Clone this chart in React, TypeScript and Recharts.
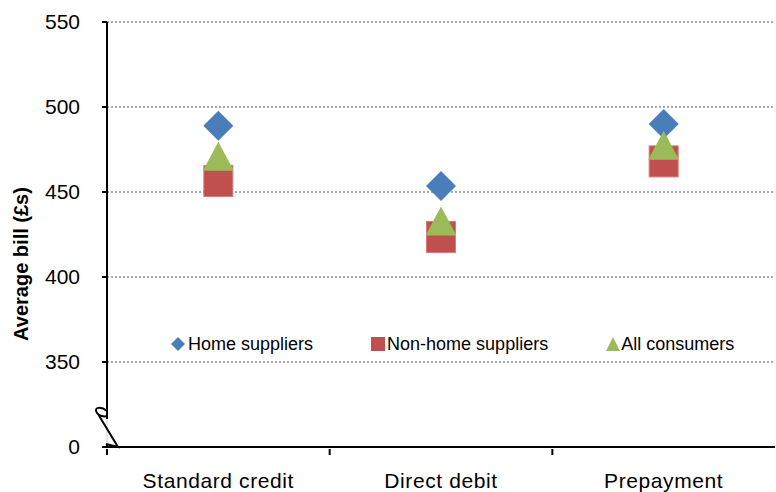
import { ScatterChart, Scatter, XAxis, YAxis, CartesianGrid, Legend } from "recharts";

const categories = ["Standard credit", "Direct debit", "Prepayment"];
const seriesNames = ["Home suppliers", "Non-home suppliers", "All consumers"];
const homeSuppliers = [489, 453.5, 490];
const nonHomeSuppliers = [456.5, 423.5, 468];
const allConsumers = [471, 433, 477.5];
const yTicks = [300, 350, 400, 450, 500, 550];
const xTicks = [0, 0.5, 1, 1.5, 2, 2.5, 3];

const BLUE = "#4A7EBB";
const RED = "#C0504D";
const GREEN = "#9BBB59";
const FONT = "'Liberation Sans', Arial, sans-serif";

const toPoints = (vals: number[]) => vals.map((y, i) => ({ x: i + 0.5, y, name: categories[i] }));

function DiamondShape({ cx, cy }: { cx?: number; cy?: number }) {
  if (cx == null || cy == null) return null;
  const h = 15;
  return (
    <polygon
      points={`${cx},${cy - h} ${cx + h},${cy} ${cx},${cy + h} ${cx - h},${cy}`}
      fill={BLUE}
    />
  );
}

function SquareShape({ cx, cy }: { cx?: number; cy?: number }) {
  if (cx == null || cy == null) return null;
  return <rect x={cx - 14.5} y={cy - 15.5} width={29} height={31} fill={RED} stroke="#D77A78" strokeWidth={1} />;
}

function TriangleShape({ cx, cy }: { cx?: number; cy?: number }) {
  if (cx == null || cy == null) return null;
  return (
    <polygon
      points={`${cx},${cy - 14.5} ${cx + 15.5},${cy + 14.5} ${cx - 15.5},${cy + 14.5}`}
      fill={GREEN}
    />
  );
}

// ticks at whole numbers are category boundaries, half values carry the labels
function XTick({ x, y, payload }: { x?: number; y?: number; payload?: { value: number } }) {
  if (x == null || y == null || !payload) return null;
  const v = payload.value;
  if (Number.isInteger(v)) {
    if (v === 3) return null;
    return <line x1={x} y1={y} x2={x} y2={y + 6} stroke="#000" strokeWidth={2} />;
  }
  return (
    <text x={x} y={y + 39} textAnchor="middle" fontSize={21} letterSpacing={0.6} fontFamily={FONT} fill="#000">
      {categories[Math.floor(v)]}
    </text>
  );
}

function LegendIcon({ i }: { i: number }) {
  if (i === 0)
    return (
      <svg width={14} height={14} style={{ marginRight: 3 }}>
        <polygon points="7,0 14,7 7,14 0,7" fill={BLUE} />
      </svg>
    );
  if (i === 1)
    return (
      <svg width={14} height={14} style={{ marginRight: 2 }}>
        <rect x={0} y={0} width={14} height={14} fill={RED} />
      </svg>
    );
  return (
    <svg width={14} height={14} style={{ marginRight: 1 }}>
      <polygon points="7,0 14,14 0,14" fill={GREEN} />
    </svg>
  );
}

function LegendContent({ payload }: { payload?: { value: string }[] }) {
  if (!payload) return null;
  const items = [...payload].sort((a, b) => seriesNames.indexOf(a.value) - seriesNames.indexOf(b.value));
  return (
    <div style={{ display: "flex", alignItems: "center", fontFamily: FONT, fontSize: 18, lineHeight: "20px", color: "#000" }}>
      {items.map((p, i) => (
        <div key={p.value} style={{ display: "flex", alignItems: "center", marginRight: i < 2 ? 58 : 0 }}>
          <LegendIcon i={seriesNames.indexOf(p.value)} />
          <span>{p.value}</span>
        </div>
      ))}
    </div>
  );
}

export default function App() {
  return (
    <div style={{ position: "absolute", left: 0, top: 0, width: 776, height: 492, background: "#fff" }}>
      <ScatterChart width={776} height={492} margin={{ top: 22, right: 1, bottom: 0, left: 0 }}>
        <CartesianGrid vertical={false} stroke="#8C8C8C" strokeWidth={1.5} strokeDasharray="2 2" />
        <XAxis
          type="number"
          dataKey="x"
          domain={[0, 3]}
          ticks={xTicks}
          interval={0}
          height={45}
          tickSize={0}
          tickLine={false}
          axisLine={{ stroke: "#000", strokeWidth: 2 }}
          tick={<XTick />}
        />
        <YAxis
          type="number"
          dataKey="y"
          domain={[300, 550]}
          ticks={yTicks}
          interval={0}
          width={107}
          tickSize={5}
          tickMargin={22}
          axisLine={{ stroke: "#000", strokeWidth: 2 }}
          tickLine={{ stroke: "#000", strokeWidth: 2 }}
          tick={{ fontSize: 21, fill: "#000", fontFamily: FONT }}
          tickFormatter={(v: number) => (v === 300 ? "0" : String(v))}
          label={{
            content: () => (
              <text
                x={28}
                y={264}
                transform="rotate(-90, 28, 264)"
                textAnchor="middle"
                fontSize={20}
                fontWeight="bold"
                fontFamily={FONT}
                fill="#000"
              >
                Average bill (£s)
              </text>
            ),
          }}
        />
        <Legend
          layout="horizontal"
          verticalAlign="middle"
          align="center"
          content={<LegendContent />}
          wrapperStyle={{ position: "absolute", top: 334, left: 171, width: "auto" }}
        />
        <Scatter name="Home suppliers" data={toPoints(homeSuppliers)} shape={<DiamondShape />} fill={BLUE} isAnimationActive={false} />
        <Scatter name="Non-home suppliers" data={toPoints(nonHomeSuppliers)} shape={<SquareShape />} fill={RED} isAnimationActive={false} />
        <Scatter name="All consumers" data={toPoints(allConsumers)} shape={<TriangleShape />} fill={GREEN} isAnimationActive={false} />
      </ScatterChart>
      {/* axis break mark */}
      <svg width={776} height={492} style={{ position: "absolute", left: 0, top: 0, pointerEvents: "none" }}>
        <line x1={107} y1={419} x2={107} y2={445} stroke="#fff" strokeWidth={3} />
        <line x1={107} y1={419} x2={107} y2={445} stroke="#D0D0D0" strokeWidth={1} />
        <path d="M107,411 C101,406 93,407 97,413 C99,416 104,417 107,416 M98,414 L118,447 L106,444" fill="none" stroke="#000" strokeWidth={2} />
      </svg>
    </div>
  );
}
